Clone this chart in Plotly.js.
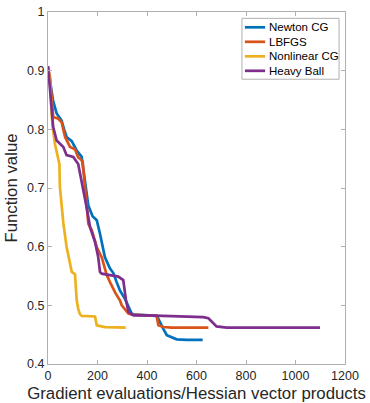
<!DOCTYPE html>
<html>
<head>
<meta charset="utf-8">
<script src="https://cdn.plot.ly/plotly-3.0.1.min.js"></script>
<style>html,body{margin:0;padding:0;background:#fff;}#chart{width:370px;height:403px;}</style>
</head>
<body>
<div id="chart"></div>
<script>
var seriesNames = ["Newton CG", "LBFGS", "Nonlinear CG", "Heavy Ball"];

var newtonX = [0, 8, 20, 35, 45, 55, 65, 75, 96, 116, 136, 143, 156, 163, 180, 197, 210, 230, 250, 264, 277, 291, 311, 325, 338, 350, 400, 440, 446, 458, 466, 480, 500, 520, 560, 625];
var newtonY = [0.905, 0.885, 0.850, 0.827, 0.820, 0.815, 0.800, 0.787, 0.780, 0.764, 0.753, 0.730, 0.684, 0.670, 0.652, 0.645, 0.622, 0.582, 0.563, 0.555, 0.540, 0.525, 0.511, 0.497, 0.486, 0.484, 0.483, 0.482, 0.477, 0.465, 0.460, 0.449, 0.445, 0.442, 0.441, 0.441];

var lbfgsX = [0, 8, 21, 42, 55, 69, 89, 109, 122, 129, 140, 149, 163, 177, 197, 217, 237, 250, 271, 291, 298, 325, 340, 400, 439, 446, 466, 500, 648];
var lbfgsY = [0.905, 0.889, 0.821, 0.818, 0.812, 0.787, 0.770, 0.766, 0.752, 0.750, 0.745, 0.700, 0.639, 0.628, 0.599, 0.582, 0.552, 0.540, 0.522, 0.508, 0.500, 0.486, 0.484, 0.483, 0.482, 0.466, 0.463, 0.462, 0.462];

var ncgX = [0, 8, 15, 19, 28, 38, 46, 48, 55, 62, 75, 89, 96, 109, 116, 122, 129, 136, 190, 197, 230, 314];
var ncgY = [0.905, 0.883, 0.824, 0.804, 0.775, 0.753, 0.741, 0.702, 0.673, 0.640, 0.600, 0.570, 0.557, 0.553, 0.509, 0.494, 0.485, 0.482, 0.481, 0.466, 0.463, 0.462];

var heavyX = [0, 8, 15, 21, 35, 62, 75, 102, 122, 136, 149, 156, 170, 190, 203, 210, 217, 250, 284, 304, 315, 325, 345, 400, 500, 600, 627, 648, 661, 681, 722, 800, 1099];
var heavyY = [0.908, 0.870, 0.832, 0.804, 0.781, 0.770, 0.756, 0.753, 0.741, 0.713, 0.684, 0.667, 0.633, 0.608, 0.582, 0.557, 0.554, 0.551, 0.549, 0.543, 0.509, 0.489, 0.483, 0.483, 0.482, 0.481, 0.480, 0.478, 0.472, 0.464, 0.462, 0.462, 0.462];

var colors = ["#0072BD", "#D95319", "#EDB120", "#7E2F8E"];
var xs = [newtonX, lbfgsX, ncgX, heavyX];
var ys = [newtonY, lbfgsY, ncgY, heavyY];

var FONT = "Liberation Sans, Arial, Helvetica, sans-serif";

var traces = seriesNames.map(function(n, i) {
  return {x: xs[i], y: ys[i], name: n, type: "scatter", mode: "lines",
          line: {color: colors[i], width: 2.7}, showlegend: false};
});

// Compact MATLAB-style legend box (paper coordinates)
var lgLeft = 0.653, lgRight = 0.980, lgTop = 0.982, lgBottom = 0.809;
var rowStep = 14.5 / 352, firstRow = 0.9565;
var shapes = [{type: "rect", xref: "paper", yref: "paper", x0: lgLeft, x1: lgRight, y0: lgBottom, y1: lgTop,
  line: {color: "#b0b0b0", width: 1}, fillcolor: "#fff", layer: "above"}];
var annotations = [];
seriesNames.forEach(function(n, i) {
  var yy = firstRow - i * rowStep;
  shapes.push({type: "line", xref: "paper", yref: "paper", x0: 0.663, x1: 0.731, y0: yy, y1: yy,
    line: {color: colors[i], width: 2.7}, layer: "above"});
  annotations.push({xref: "paper", yref: "paper", x: 0.738, y: yy, xanchor: "left", yanchor: "middle",
    text: n, showarrow: false, font: {family: FONT, size: 11.5, color: "#000"}});
});

var axisCommon = {
  showgrid: false, zeroline: false, showline: true, linecolor: "#b0b0b0", linewidth: 1,
  mirror: "ticks", ticks: "inside", ticklen: 4, tickcolor: "#b0b0b0",
  tickfont: {family: FONT, size: 12.5, color: "#262626"}
};

var layout = {
  width: 370, height: 403,
  margin: {l: 48, r: 25, t: 12, b: 39},
  paper_bgcolor: "#fff", plot_bgcolor: "#fff",
  font: {family: FONT, color: "#262626"},
  xaxis: Object.assign({}, axisCommon, {range: [0, 1200], dtick: 200, tick0: 0,
    title: {text: "Gradient evaluations/Hessian vector products", font: {size: 16.8}, standoff: 6}}),
  yaxis: Object.assign({}, axisCommon, {range: [0.4, 1], dtick: 0.1, tick0: 0.4,
    title: {text: "Function value", font: {size: 16.8}, standoff: 5}}),
  showlegend: false,
  shapes: shapes,
  annotations: annotations
};

Plotly.newPlot("chart", traces, layout, {displayModeBar: false, staticPlot: true});
</script>
</body>
</html>
